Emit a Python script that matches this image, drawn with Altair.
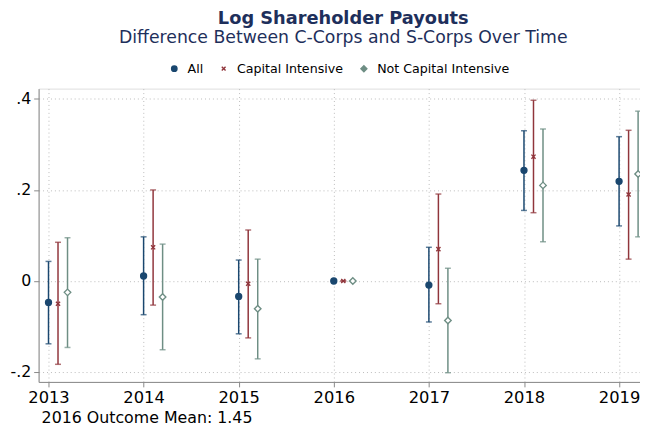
import altair as alt
import pandas as pd

years = [2013, 2014, 2015, 2016, 2017, 2018, 2019]
groups = ["All", "Capital Intensive", "Not Capital Intensive"]
offsets = [0.0, 0.1, 0.2]

all_est = [-0.047, 0.011, -0.034, 0.0, -0.009, 0.243, 0.219]
all_lo = [-0.138, -0.074, -0.116, 0.0, -0.090, 0.155, 0.121]
all_hi = [0.043, 0.097, 0.046, 0.0, 0.074, 0.330, 0.317]

cap_est = [-0.050, 0.074, -0.006, 0.0, 0.070, 0.273, 0.190]
cap_lo = [-0.183, -0.053, -0.125, 0.0, -0.050, 0.150, 0.048]
cap_hi = [0.085, 0.200, 0.112, 0.0, 0.191, 0.397, 0.331]

not_est = [-0.025, -0.035, -0.061, 0.0, -0.087, 0.210, 0.235]
not_lo = [-0.146, -0.151, -0.171, 0.0, -0.2015, 0.086, 0.097]
not_hi = [0.095, 0.081, 0.048, 0.0, 0.028, 0.334, 0.373]

colors = ["#1a476f", "#90353b", "#6e8e84"]
fills = ["#1a476f", "#90353b", "white"]
shapes = ["circle", "M-0.7,-0.7L0.7,0.7M0.7,-0.7L-0.7,0.7", "M0,-1.1L1.1,0L0,1.1L-1.1,0Z"]

y_ticks = [-0.2, 0.0, 0.2, 0.4]
caption = "2016 Outcome Mean: 1.45"

rows = []
for g, off, est, lo, hi in zip(groups, offsets,
                               [all_est, cap_est, not_est],
                               [all_lo, cap_lo, not_lo],
                               [all_hi, cap_hi, not_hi]):
    for i, yr in enumerate(years):
        rows.append({"year": yr, "group": g, "xpos": yr + off,
                     "est": est[i], "lo": lo[i], "hi": hi[i]})
df = pd.DataFrame(rows)

xscale = alt.Scale(domain=[2012.896, 2019.22], nice=False, zero=False)
yscale = alt.Scale(domain=[-0.2217, 0.4225], nice=False, zero=False)
cscale = alt.Scale(domain=groups, range=colors)
fscale = alt.Scale(domain=groups, range=fills)
sscale = alt.Scale(domain=groups, range=shapes)

legend = alt.Legend(title=None, orient="none", direction="horizontal",
                    legendX=131, legendY=-27, labelFontSize=12.8, labelFont="DejaVu Sans",
                    labelColor="black", symbolSize=30, symbolStrokeWidth=1.4,
                    symbolOpacity=1, columnPadding=14, labelOffset=7)

color_enc = alt.Color("group:N", scale=cscale, legend=legend)

base = alt.Chart(df)

x_enc = alt.X("xpos:Q", scale=xscale,
              axis=alt.Axis(values=years, format="d", title=None, labelFontSize=16.5,
                            labelColor="black", labelFont="DejaVu Sans", tickSize=5,
                            tickColor="#888888", domainColor="#888888", labelPadding=3,
                            grid=True, gridDash=[1, 3], gridColor="#bbbbbb",
                            labelFlush=False))
y_axis = alt.Axis(values=y_ticks, title=None, labelFontSize=16, labelColor="black",
                  labelFont="DejaVu Sans", tickSize=5, tickColor="#888888",
                  domainColor="#888888", labelPadding=3, grid=True, gridDash=[1, 3],
                  gridColor="#bbbbbb",
                  labelExpr="datum.value == 0 ? '0' : (datum.value < 0 ? '-' : '') + replace(format(abs(datum.value), '.1f'), '0.', '.')")

bars = base.mark_rule(strokeWidth=1.5).encode(
    x=x_enc,
    y=alt.Y("lo:Q", scale=yscale, axis=y_axis),
    y2="hi:Q",
    color=color_enc,
)
caps_lo = base.mark_tick(orient="horizontal", size=6, thickness=1.5).encode(
    x="xpos:Q", y=alt.Y("lo:Q"), color=color_enc,
)
caps_hi = base.mark_tick(orient="horizontal", size=6, thickness=1.5).encode(
    x="xpos:Q", y=alt.Y("hi:Q"), color=color_enc,
)
points = base.mark_point(filled=False, size=36, strokeWidth=1.4, opacity=1).encode(
    x="xpos:Q", y=alt.Y("est:Q"),
    color=color_enc,
    fill=alt.Fill("group:N", scale=fscale, legend=legend),
    shape=alt.Shape("group:N", scale=sscale, legend=legend),
)
cap_text = alt.Chart(pd.DataFrame({"t": [caption]})).mark_text(
    align="left", baseline="middle", fontSize=16, font="DejaVu Sans", color="black"
).encode(text="t:N", x=alt.value(3), y=alt.value(334))

chart = alt.layer(bars, caps_lo, caps_hi, points, cap_text).properties(
    width=609, height=297,
    autosize=alt.AutoSizeParams(type="none"),
    padding={"left": 31, "top": 79, "right": 0, "bottom": 44},
    title=alt.TitleParams(
        text="Log Shareholder Payouts",
        subtitle="Difference Between C-Corps and S-Corps Over Time",
        anchor="middle", dx=4, fontSize=18, fontWeight="bold", font="DejaVu Sans",
        subtitleFont="DejaVu Sans", subtitleFontSize=17.5, color="#1e2f5b",
        subtitleColor="#1e2f5b", offset=16, subtitlePadding=1,
    ),
).configure_view(stroke=None).configure(background="white")

chart.save("out.html", embed_options={"renderer": "svg", "actions": False})
